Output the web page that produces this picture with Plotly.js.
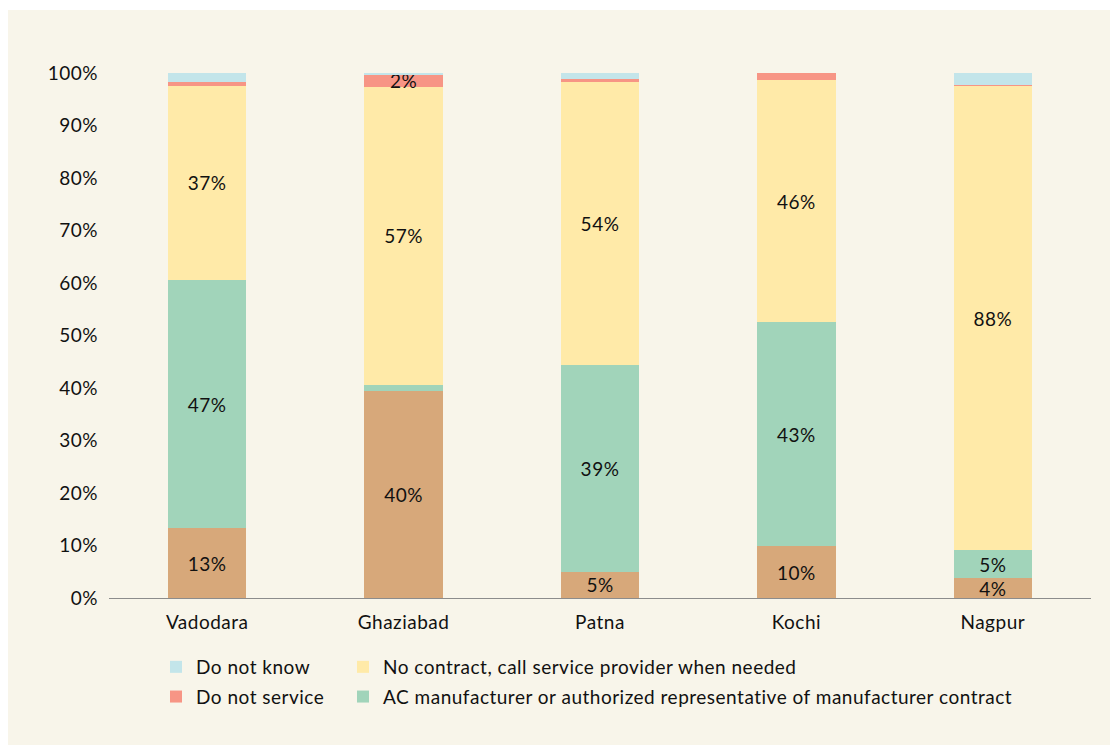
<!DOCTYPE html>
<html>
<head>
<meta charset="utf-8">
<script src="https://cdn.plot.ly/plotly-3.0.1.min.js"></script>
<style>
  html, body { margin: 0; padding: 0; background: #ffffff; }
  #chart { position: absolute; left: 8px; top: 10px; width: 1102px; height: 735px; }
  svg text { letter-spacing: 0.5px; }
</style>
</head>
<body>
<div id="chart"></div>
<script>
// Categories
const cities = ["Vadodara", "Ghaziabad", "Patna", "Kochi", "Nagpur"];

// Series values (percent)
const otherContract   = [13.3, 39.5, 5.0, 9.9, 3.8];   // tan, no legend entry
const manufacturer    = [47.3, 1.1, 39.4, 42.6, 5.3];
const noContract      = [36.9, 56.8, 53.8, 46.1, 88.4];
const doNotService    = [0.8, 2.3, 0.6, 1.4, 0.3];
const doNotKnow       = [1.7, 0.3, 1.2, 0.0, 2.2];

// Series names
const nameManufacturer = "AC manufacturer or authorized representative of manufacturer contract";
const nameNoContract   = "No contract, call service provider when needed";
const nameDoNotService = "Do not service";
const nameDoNotKnow    = "Do not know";

// Y tick values
const yTicks = [0, 10, 20, 30, 40, 50, 60, 70, 80, 90, 100];
const yTickText = yTicks.map(v => v + "%");

const FONT = "Lato, 'Open Sans', sans-serif";
const FS = 19;

function labels(vals, minShown) {
  return vals.map(v => (v >= minShown ? Math.round(v) + "%" : ""));
}

function barTrace(vals, name, color, minShown, legendId, showLegend, rank) {
  return {
    type: "bar",
    x: cities,
    y: vals,
    name: name,
    legendgroup: name,
    legendrank: rank,
    marker: { color: color, line: { width: 0 } },
    text: labels(vals, minShown),
    textposition: "inside",
    insidetextanchor: "middle",
    textangle: 0,
    constraintext: "none",
    cliponaxis: false,
    textfont: { family: FONT, size: FS, color: "#111111" },
    hoverinfo: "x+y+name",
    showlegend: showLegend,
    legend: legendId,
    width: 0.4
  };
}

const data = [
  barTrace(otherContract, "Other", "#D7A87A", 3, "legend", false, 9),
  barTrace(manufacturer, nameManufacturer, "#A1D4BA", 3, "legend2", true, 2),
  barTrace(noContract, nameNoContract, "#FFEAA8", 3, "legend2", true, 1),
  barTrace(doNotService, nameDoNotService, "#F79585", 2, "legend", true, 2),
  barTrace(doNotKnow, nameDoNotKnow, "#C3E5EA", 1000, "legend", true, 1)
];

const legendCommon = {
  orientation: "v",
  traceorder: "grouped",
  tracegroupgap: 2,
  bgcolor: "rgba(0,0,0,0)",
  font: { family: FONT, size: FS, color: "#111111" },
  xref: "paper",
  yref: "paper",
  xanchor: "left",
  yanchor: "top",
  itemclick: false,
  itemdoubleclick: false
};

const layout = {
  width: 1102,
  height: 735,
  paper_bgcolor: "#F8F5EA",
  plot_bgcolor: "#F8F5EA",
  barmode: "stack",
  margin: { l: 101, r: 19, t: 63, b: 147, pad: 0, autoexpand: false },
  font: { family: FONT, size: FS, color: "#111111" },
  xaxis: {
    type: "category",
    range: [-0.5, 4.5],
    showgrid: false,
    showline: true,
    linecolor: "#8C8C8C",
    linewidth: 1,
    ticks: "",
    tickangle: 0,
    automargin: false,
    ticklabelstandoff: 7,
    tickfont: { family: FONT, size: FS, color: "#111111" },
    fixedrange: true
  },
  yaxis: {
    range: [0, 100],
    tickvals: yTicks,
    ticktext: yTickText,
    showgrid: false,
    zeroline: false,
    showline: false,
    ticks: "",
    automargin: false,
    ticklabelstandoff: 10,
    tickfont: { family: FONT, size: FS, color: "#111111" },
    fixedrange: true
  },
  legend: Object.assign({}, legendCommon, { x: (148 - 101) / 982, y: (97 - 147) / 525 }),
  legend2: Object.assign({}, legendCommon, { x: (335 - 101) / 982, y: (97 - 147) / 525 }),
  showlegend: true
};

Plotly.newPlot("chart", data, layout, { displayModeBar: false, staticPlot: true });
</script>
</body>
</html>
